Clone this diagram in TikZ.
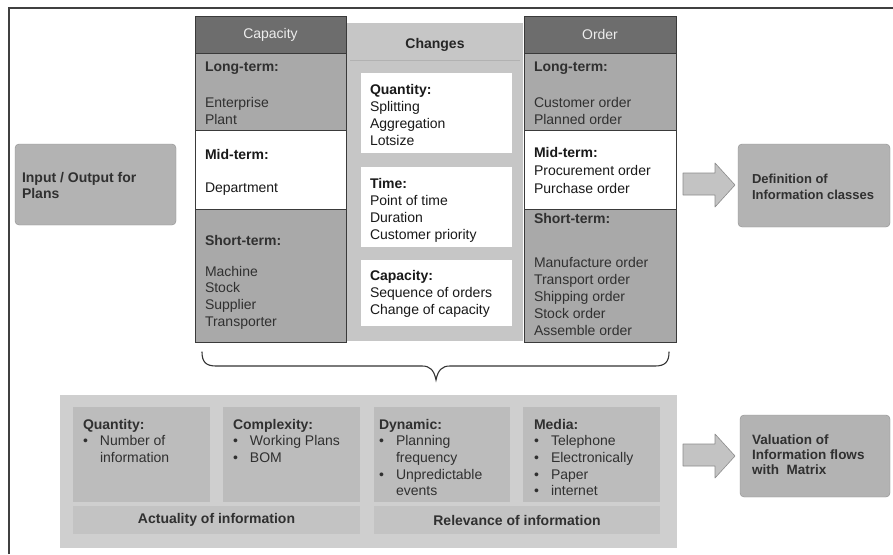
\documentclass[tikz,border=0pt]{standalone}
\usepackage{fontspec}
\setmainfont{Liberation Sans}
\definecolor{hdrgray}{HTML}{6D6D6D}
\definecolor{secgray}{HTML}{A9A9A9}
\definecolor{chggray}{HTML}{C6C6C6}
\definecolor{sidegray}{HTML}{B3B3B3}
\definecolor{biggray}{HTML}{CFCFCF}
\definecolor{innergray}{HTML}{BCBCBC}
\definecolor{lblgray}{HTML}{C3C3C3}
\definecolor{inkdark}{HTML}{303030}
\definecolor{inklight}{HTML}{EDEDED}
\definecolor{edge}{HTML}{3A3A3A}
\newcommand\bulletmark{\makebox[17pt][l]{\textbullet}}
\newcommand\bulletgap{\hspace*{17pt}}
\begin{document}
\begin{tikzpicture}[x=1pt,y=-1pt,
  every node/.style={inner sep=0pt,outer sep=0pt},
  box/.style={anchor=north west,rectangle},
  colsec/.style={box,fill=secgray,draw=edge,line width=0.8pt},
  colhead/.style={box,fill=hdrgray,draw=edge,line width=0.8pt},
  colmid/.style={box,fill=white,draw=edge,line width=0.8pt},
  whitebox/.style={box,fill=white},
  sidebox/.style={box,fill=sidegray,rounded corners=4pt,draw=sidegray!80!black,line width=0.4pt},
  txt/.style={anchor=north west,align=left,text=inkdark,font=\fontsize{14}{17}\selectfont},
  txtdark/.style={txt,text=black!90},
  headtxt/.style={text=inklight,font=\fontsize{14}{17}\selectfont},
  blockarrow/.style={fill=lblgray,draw=black!45,line width=0.6pt,line join=round}
]
\useasboundingbox (0,0) rectangle (893,554);

% page frame
\draw[black!75,line width=1.2pt] (9,554) -- (9,8) -- (893,8);

% ---------- middle column: changes ----------
\node[box,fill=chggray,minimum width=176,minimum height=318] (chg) at (347,23) {};
\draw[black!30,line width=0.6pt] (350,60) -- (520,60);
\node[font=\bfseries\fontsize{14}{17}\selectfont,text=black!85] (chgT) at (435,45) {Changes};

\node[whitebox,minimum width=151,minimum height=80] (qbox) at (361,73) {};
\node[txtdark] (qT) at (370,84) {\textbf{Quantity:}\\Splitting\\Aggregation\\Lotsize};
\node[whitebox,minimum width=151,minimum height=80] (tbox) at (361,167) {};
\node[txtdark] (tT) at (370,178) {\textbf{Time:}\\Point of time\\Duration\\Customer priority};
\node[whitebox,minimum width=151,minimum height=66] (cbox) at (361,260) {};
\node[txtdark] (cT) at (370,270) {\textbf{Capacity:}\\Sequence of orders\\Change of capacity};

% ---------- capacity column ----------
\node[colhead,minimum width=151,minimum height=37] (capHead) at (195,16) {};
\node[headtxt] (capHeadT) at (capHead.center) {Capacity};
\node[colsec,minimum width=151,minimum height=77] (capLong) at (195,53) {};
\node[colmid,minimum width=151,minimum height=79] (capMid) at (195,130) {};
\node[colsec,minimum width=151,minimum height=133] (capShort) at (195,209) {};
\node[txt,font=\bfseries\fontsize{14}{17}\selectfont] (capLongT) at (205,62) {Long-term:};
\node[txt] (capLongI) at (205,97) {Enterprise\\Plant};
\node[txtdark,font=\bfseries\fontsize{14}{17}\selectfont] (capMidT) at (205,149) {Mid-term:};
\node[txtdark] (capMidI) at (205,183) {Department};
\node[txt,font=\bfseries\fontsize{14}{17}\selectfont] (capShortT) at (205,235) {Short-term:};
\node[txt,font=\fontsize{14}{16.7}\selectfont] (capShortI) at (205,266) {Machine\\Stock\\Supplier\\Transporter};

% ---------- order column ----------
\node[colhead,minimum width=152,minimum height=37] (ordHead) at (524,16) {};
\node[headtxt] (ordHeadT) at (ordHead.center) {Order};
\node[colsec,minimum width=152,minimum height=77] (ordLong) at (524,53) {};
\node[colmid,minimum width=152,minimum height=79] (ordMid) at (524,130) {};
\node[colsec,minimum width=152,minimum height=133] (ordShort) at (524,209) {};
\node[txt,font=\bfseries\fontsize{14}{17}\selectfont] (ordLongT) at (534,62) {Long-term:};
\node[txt] (ordLongI) at (534,97) {Customer order\\Planned order};
\node[txtdark,font=\fontsize{14}{18}\selectfont] (ordMidT) at (534,147) {\textbf{Mid-term:}\\Procurement order\\Purchase order};
\node[txt,font=\bfseries\fontsize{14}{17}\selectfont] (ordShortT) at (534,213) {Short-term:};
\node[txt] (ordShortI) at (534,257) {Manufacture order\\Transport order\\Shipping order\\Stock order\\Assemble order};

% ---------- left and right boxes ----------
\node[sidebox,minimum width=161,minimum height=81] (io) at (15,144) {};
\node[txt,font=\bfseries\fontsize{14}{16}\selectfont] (ioT) at (22,172) {Input / Output for\\Plans};

\node[sidebox,minimum width=152,minimum height=83] (defn) at (738,144) {};
\node[txt,font=\bfseries\fontsize{13}{16}\selectfont] (defnT) at (752,174) {Definition of\\Information classes};

\node[sidebox,minimum width=150,minimum height=82] (valu) at (740,415) {};
\node[txt,font=\bfseries\fontsize{13.5}{15}\selectfont] (valuT) at (752,435) {Valuation of\\Information flows\\with\ \ Matrix};

% block arrows
\draw[blockarrow] (683,173) -- (715,173) -- (715,163) -- (735,185) -- (715,207) -- (715,195) -- (683,195) -- cycle;
\draw[blockarrow] (683,444) -- (715,444) -- (715,434) -- (735,456) -- (715,478) -- (715,466) -- (683,466) -- cycle;

% ---------- brace ----------
\draw[black!80,line width=1.1pt,line cap=round]
  (202,352) .. controls (202,362) and (206,366) .. (216,366) -- (422,366)
  .. controls (430,366) and (434,370) .. (436,380)
  .. controls (438,370) and (442,366) .. (450,366) -- (655,366)
  .. controls (665,366) and (669,362) .. (669,352);

% ---------- lower panel ----------
\node[box,fill=biggray,minimum width=617,minimum height=153] (panel) at (60,395) {};
\node[box,fill=innergray,minimum width=137,minimum height=95] (pQ) at (73,407) {};
\node[box,fill=innergray,minimum width=137,minimum height=95] (pC) at (223,407) {};
\node[box,fill=innergray,minimum width=136,minimum height=95] (pD) at (374,407) {};
\node[box,fill=innergray,minimum width=137,minimum height=95] (pM) at (523,407) {};
\node[box,fill=lblgray,minimum width=287,minimum height=28] (pA) at (73,506) {};
\node[box,fill=lblgray,minimum width=286,minimum height=28] (pR) at (374,506) {};

\node[txt,font=\fontsize{14}{16.7}\selectfont] (pQT) at (83,419) {\textbf{Quantity:}\\\bulletmark Number of\\\bulletgap information};
\node[txt,font=\fontsize{14}{16.7}\selectfont] (pCT) at (233,419) {\textbf{Complexity:}\\\bulletmark Working Plans\\\bulletmark BOM};
\node[txt,font=\fontsize{14}{16.7}\selectfont] (pDT) at (379,419) {\textbf{Dynamic:}\\\bulletmark Planning\\\bulletgap frequency\\\bulletmark Unpredictable\\\bulletgap events};
\node[txt,font=\fontsize{14}{16.7}\selectfont] (pMT) at (534,419) {\textbf{Media:}\\\bulletmark Telephone\\\bulletmark Electronically\\\bulletmark Paper\\\bulletmark internet};
\node[text=inkdark,font=\bfseries\fontsize{14}{17}\selectfont] (pAT) at (pA.center) {Actuality of information};
\node[text=inkdark,font=\bfseries\fontsize{14}{17}\selectfont] (pRT) at (pR.center) {Relevance of information};
\end{tikzpicture}
\end{document}
